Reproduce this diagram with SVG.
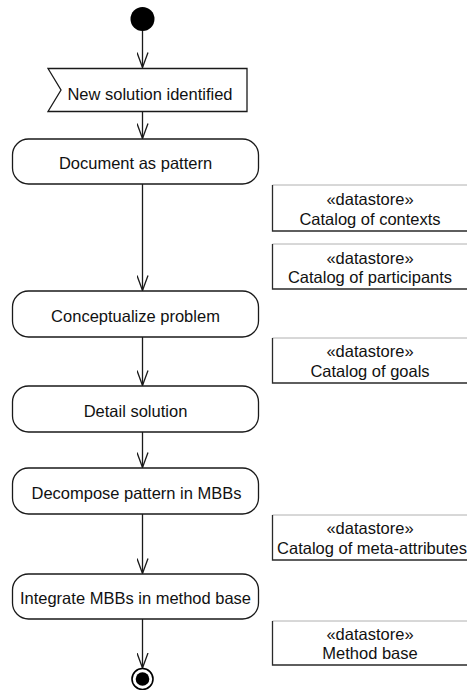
<svg xmlns="http://www.w3.org/2000/svg" width="467" height="690" viewBox="0 0 467 690">
  <defs>
    <!-- open V arrowhead for control flows -->
    <marker id="flowhead" viewBox="0 0 16 12" refX="15.5" refY="6" markerWidth="16" markerHeight="12" markerUnits="userSpaceOnUse" orient="auto">
      <path d="M0.5,0.5 L15.5,6 L0.5,11.5" fill="none" stroke="#1a1a1a" stroke-width="1.3"/>
    </marker>
  </defs>
  <style>
    text { font-family: "Liberation Sans", Arial, sans-serif; font-size: 16.5px; fill: #111; text-anchor: middle; }
    .act { fill: #fff; stroke: #1a1a1a; stroke-width: 1.3; }
    .flow { fill: none; stroke: #1a1a1a; stroke-width: 1.3; marker-end: url(#flowhead); }
    .ds { fill: #fff; stroke: none; }
    .dsEdge { fill: none; stroke: #2a2a2a; stroke-width: 1.3; }
    .dsTop { fill: none; stroke: #b0b0b0; stroke-width: 1; }
  </style>

  <rect width="467" height="690" fill="#fff"/>

  <!-- control flows -->
  <g id="connectors">
    <line class="flow" x1="142.5" y1="31" x2="142.5" y2="67.5"/>
    <line class="flow" x1="142.5" y1="112" x2="142.5" y2="138.5"/>
    <line class="flow" x1="142.5" y1="184" x2="142.5" y2="290.5"/>
    <line class="flow" x1="142.5" y1="337" x2="142.5" y2="385.5"/>
    <line class="flow" x1="142.5" y1="432" x2="142.5" y2="467.5"/>
    <line class="flow" x1="142.5" y1="514" x2="142.5" y2="573.5"/>
    <line class="flow" x1="142.5" y1="619" x2="142.5" y2="668"/>
  </g>

  <!-- initial node -->
  <g id="start">
    <circle cx="142.5" cy="19" r="12" fill="#000"/>
  </g>

  <!-- accept event action -->
  <g id="newSolution">
    <path class="act" d="M48,68.5 H247 V111.5 H48 L61,90 Z"/>
    <text x="150" y="99.5">New solution identified</text>
  </g>

  <g id="documentPattern">
    <rect class="act" x="12.5" y="139" width="246" height="45" rx="16"/>
    <text x="135.5" y="168.5">Document as pattern</text>
  </g>

  <g id="conceptualize">
    <rect class="act" x="12.5" y="291" width="246" height="46" rx="16"/>
    <text x="135.5" y="321.5">Conceptualize problem</text>
  </g>

  <g id="detailSolution">
    <rect class="act" x="12.5" y="386" width="246" height="46" rx="16"/>
    <text x="135.5" y="416.5">Detail solution</text>
  </g>

  <g id="decompose">
    <rect class="act" x="12.5" y="468" width="246" height="46" rx="16"/>
    <text x="136.5" y="498.5">Decompose pattern in MBBs</text>
  </g>

  <g id="integrate">
    <rect class="act" x="12.5" y="574" width="246" height="45" rx="16"/>
    <text x="135.5" y="604">Integrate MBBs in method base</text>
  </g>

  <!-- final node -->
  <g id="end">
    <circle cx="142.5" cy="679" r="10.5" fill="#fff" stroke="#000" stroke-width="1.6"/>
    <circle cx="142.5" cy="679" r="6.8" fill="#000"/>
  </g>

  <!-- datastores (right edge runs past the canvas) -->
  <g id="catalogContexts">
    <rect class="ds" x="272.5" y="185" width="200" height="46"/>
    <path class="dsTop" d="M272.5,185 H472"/>
    <path class="dsEdge" d="M272.5,185 V231 H472"/>
    <text x="370" y="205">«datastore»</text>
    <text x="370" y="224.5">Catalog of contexts</text>
  </g>

  <g id="catalogParticipants">
    <rect class="ds" x="272.5" y="244" width="200" height="45"/>
    <path class="dsTop" d="M272.5,244 H472"/>
    <path class="dsEdge" d="M272.5,244 V289 H472"/>
    <text x="370" y="264">«datastore»</text>
    <text x="370" y="283">Catalog of participants</text>
  </g>

  <g id="catalogGoals">
    <rect class="ds" x="272.5" y="338" width="200" height="45"/>
    <path class="dsTop" d="M272.5,338 H472"/>
    <path class="dsEdge" d="M272.5,338 V383 H472"/>
    <text x="370" y="357">«datastore»</text>
    <text x="370" y="376.5">Catalog of goals</text>
  </g>

  <g id="catalogMeta">
    <rect class="ds" x="272.5" y="515" width="200" height="45"/>
    <path class="dsTop" d="M272.5,515 H472"/>
    <path class="dsEdge" d="M272.5,515 V560 H472"/>
    <text x="370" y="534">«datastore»</text>
    <text x="372" y="554">Catalog of meta-attributes</text>
  </g>

  <g id="methodBase">
    <rect class="ds" x="272.5" y="621" width="200" height="44"/>
    <path class="dsTop" d="M272.5,621 H472"/>
    <path class="dsEdge" d="M272.5,621 V665 H472"/>
    <text x="370" y="640">«datastore»</text>
    <text x="370" y="659">Method base</text>
  </g>
</svg>
